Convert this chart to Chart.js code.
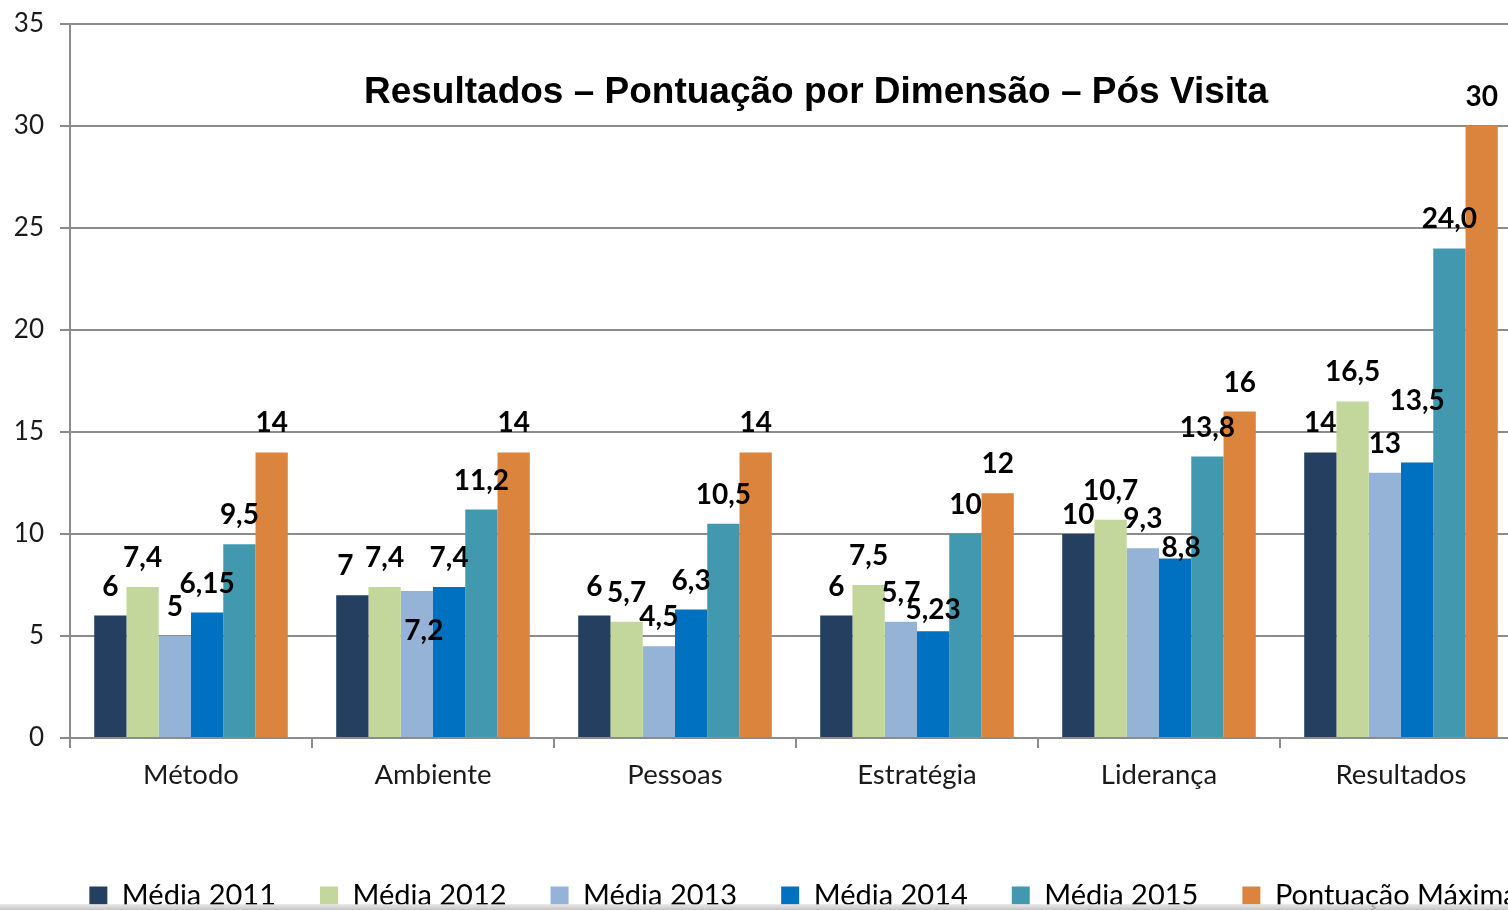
<!DOCTYPE html>
<html lang="pt">
<head>
<meta charset="utf-8">
<title>Resultados – Pontuação por Dimensão – Pós Visita</title>
<script src="https://cdn.jsdelivr.net/npm/chart.js@4/dist/chart.umd.min.js"></script>
<style>
  html, body { margin: 0; padding: 0; background: #fff; overflow: hidden; }
  #wrap { position: relative; width: 1508px; height: 910px; overflow: hidden; }
  #chart { position: absolute; left: 0; top: 0; }
  #edge {
    position: absolute; left: 0; top: 904px; width: 1508px; height: 6px;
    background: linear-gradient(to bottom, rgba(225,225,225,0.7), rgba(190,190,190,0.9));
  }
</style>
</head>
<body>
<div id="wrap">
  <canvas id="chart" width="1607" height="920"></canvas>
  <div id="edge"></div>
</div>
<script>
// Chart data
const categories = ["Método", "Ambiente", "Pessoas", "Estratégia", "Liderança", "Resultados"];
const seriesNames = ["Média 2011", "Média 2012", "Média 2013", "Média 2014", "Média 2015", "Pontuação Máxima"];

const media2011 = [6, 7, 6, 6, 10, 14];
const media2012 = [7.4, 7.4, 5.7, 7.5, 10.7, 16.5];
const media2013 = [5, 7.2, 4.5, 5.7, 9.3, 13];
const media2014 = [6.15, 7.4, 6.3, 5.23, 8.8, 13.5];
const media2015 = [9.5, 11.2, 10.5, 10, 13.8, 24.0];
const pontuacaoMaxima = [14, 14, 14, 12, 16, 30];

const yTicks = [0, 5, 10, 15, 20, 25, 30, 35];

const seriesValues = [media2011, media2012, media2013, media2014, media2015, pontuacaoMaxima];
const seriesColors = ["#253f60", "#c3d69b", "#95b3d7", "#0070c0", "#4298af", "#db843d"];

// value labels that the original shows with a fixed decimal
const labelOverrides = { "4:5": "24,0" };

// hand-placed labels in the original (dx, dy from the default spot)
const labelNudges = {
  "0:1": [-7, 0],
  "2:1": [7, 69],
  "3:3": [0, 8],
  "0:4": [0, 10],
  "3:4": [6, 18],
  "3:5": [0, -33],
};

const TITLE = "Resultados – Pontuação por Dimensão – Pós Visita";
const X_AXIS_HEIGHT = 99; // space between plot bottom and legend

function formatValue(v) {
  return String(v).replace(".", ",");
}

const valueLabels = {
  id: "valueLabels",
  afterDatasetsDraw(chart) {
    const ctx = chart.ctx;
    ctx.save();
    ctx.font = "bold 28px Lato";
    ctx.fillStyle = "#000";
    ctx.textAlign = "center";
    ctx.textBaseline = "middle";
    chart.data.datasets.forEach((ds, di) => {
      const meta = chart.getDatasetMeta(di);
      meta.data.forEach((bar, i) => {
        const key = di + ":" + i;
        const text = labelOverrides[key] || formatValue(ds.data[i]);
        const nudge = labelNudges[key] || [0, 0];
        ctx.fillText(text, bar.x + nudge[0], bar.y - 29 + nudge[1]);
      });
    });
    ctx.restore();
  },
};

const chartTitle = {
  id: "chartTitle",
  afterDraw(chart) {
    const { ctx, chartArea } = chart;
    const x = (chartArea.left + chartArea.right) / 2 + 20;
    const y = chart.scales.y.getPixelForValue(31.65);
    ctx.save();
    ctx.font = "bold 37px 'Liberation Sans', Arial, sans-serif";
    ctx.fillStyle = "#000";
    ctx.textAlign = "center";
    ctx.textBaseline = "middle";
    ctx.fillText(TITLE, x, y);
    ctx.restore();
  },
};

const ctx = document.getElementById("chart");

new Chart(ctx, {
  type: "bar",
  data: {
    labels: categories,
    datasets: seriesNames.map((name, i) => ({
      label: name,
      data: seriesValues[i],
      backgroundColor: seriesColors[i],
      borderWidth: 0,
      categoryPercentage: 0.8,
      barPercentage: 1.0,
    })),
  },
  options: {
    responsive: false,
    animation: false,
    layout: { padding: { top: 24, right: 0, bottom: 0, left: 0 } },
    plugins: {
      legend: {
        position: "bottom",
        labels: {
          font: { family: "Lato", size: 29 },
          color: "#000",
          boxWidth: 18,
          boxHeight: 18,
          padding: 44,
        },
      },
      tooltip: { enabled: false },
    },
    scales: {
      x: {
        grid: {
          offset: true,
          drawOnChartArea: false,
          drawTicks: true,
          tickLength: 10,
          color: "#8c8c8c",
          lineWidth: 2,
        },
        border: { color: "#8c8c8c", width: 2 },
        ticks: {
          font: { family: "Lato", size: 27.5 },
          color: "#1a1a1a",
          padding: 11,
          maxRotation: 0,
          autoSkip: false,
        },
        afterFit(scale) {
          scale.height = X_AXIS_HEIGHT;
        },
      },
      y: {
        min: 0,
        max: 35,
        afterBuildTicks(scale) {
          scale.ticks = yTicks.map((v) => ({ value: v }));
        },
        grid: {
          color: "#8c8c8c",
          lineWidth: 2,
          tickLength: 10,
        },
        border: { color: "#8c8c8c", width: 2 },
        ticks: {
          font: { family: "Lato", size: 26 },
          color: "#1a1a1a",
          padding: 16,
        },
        afterFit(scale) {
          scale.width = 70;
          scale.paddingTop = 0;
        },
      },
      // empty right-hand axis: keeps the plot's right edge past the window
      // without narrowing the legend
      yRight: {
        position: "right",
        display: true,
        grid: { display: false, drawTicks: false },
        border: { display: false },
        ticks: { display: false },
        afterFit(scale) {
          scale.width = 85;
          scale.paddingTop = 0;
        },
      },
    },
  },
  plugins: [valueLabels, chartTitle],
});
</script>
</body>
</html>
